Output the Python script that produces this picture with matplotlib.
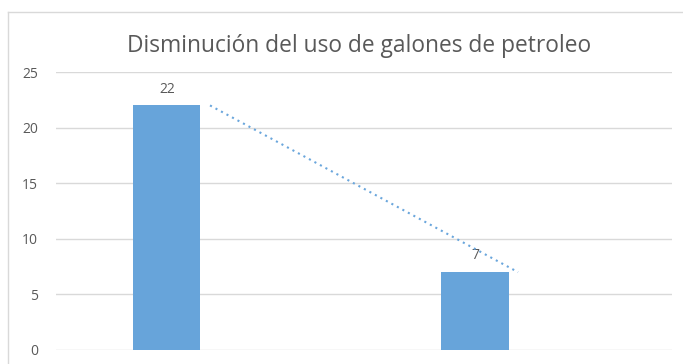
import matplotlib.pyplot as plt
from matplotlib.lines import Line2D

plt.rcParams['font.family'] = ['Open Sans', 'DejaVu Sans']

categories = [0, 1]
galones = [22, 7]
trend_x = [0, 1]
trend_y = [22, 7]
y_ticks = [0, 5, 10, 15, 20, 25]
titulo = "Disminución del uso de galones de petroleo"

bar_color = "#67A4DA"
text_color = "#595959"
grid_color = "#D9D9D9"

fig = plt.figure(figsize=(6.83, 3.64), dpi=100)
ax = fig.add_axes([0.082, 0.0385, 0.902, 0.7635])

bar_pos = [c - 0.14 for c in categories]
bars = ax.bar(bar_pos, galones, width=0.218, color=bar_color, zorder=3)
for b, v in zip(bars, galones):
    ax.text(b.get_x() + b.get_width() / 2, v + 0.8, str(v), ha="center", va="bottom",
            fontsize=10, color=text_color, zorder=4)

# linear trendline
ax.plot(trend_x, trend_y, linestyle=(0, (1, 2)), color="#6AA6DC", linewidth=1.5, zorder=4)

ax.set_xlim(-0.5, 1.5)
ax.set_ylim(0, 25)
ax.set_yticks(y_ticks)
ax.set_xticks([])
ax.tick_params(axis="y", length=0, labelsize=10, labelcolor=text_color, pad=13)
ax.yaxis.grid(True, color=grid_color, linewidth=1)
ax.set_axisbelow(True)
for s in ax.spines.values():
    s.set_visible(False)

fig.text(0.526, 0.874, titulo, ha="center", va="center", fontsize=16.4, color=text_color)

# chart area border
fig.add_artist(Line2D([8 / 683, 8 / 683], [0, 1 - 12 / 364], color="#D9D9D9", linewidth=1))
fig.add_artist(Line2D([8 / 683, 1], [1 - 12 / 364, 1 - 12 / 364], color="#D9D9D9", linewidth=1))

fig.savefig("out.png", dpi=100)
